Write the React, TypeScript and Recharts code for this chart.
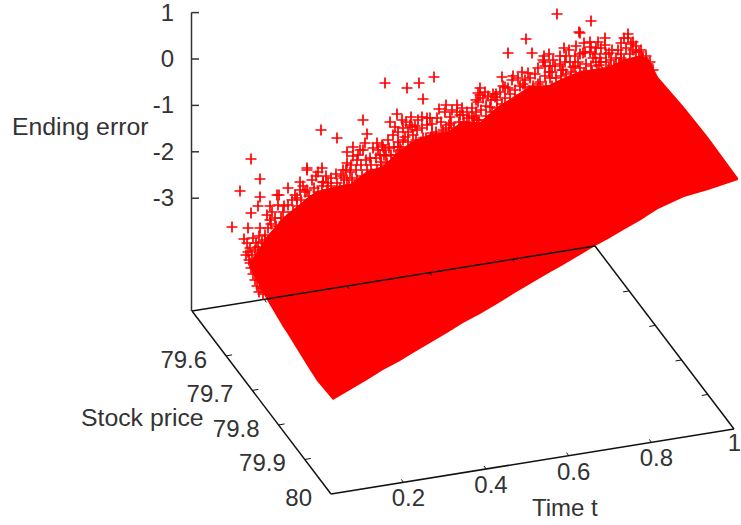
import { ComposedChart, Area, Scatter, XAxis, YAxis, ReferenceLine } from 'recharts'

// tick values of the three axes
const timeTicks = [0.2, 0.4, 0.6, 0.8, 1]
const priceTicks = [79.6, 79.7, 79.8, 79.9, 80]
const errorTicks = [1, 0, -1, -2, -3]

// dense part of the cloud: x, upper edge, lower edge
const bodyX = [250, 262, 267, 283, 287, 300, 308, 317, 333, 350, 367, 383, 400, 413, 430, 447, 463, 480, 497, 513, 530, 547, 563, 580, 595, 608, 625, 641, 650, 658, 684, 708, 738]
const bodyTop = [262, 245, 236, 218, 214, 204, 197, 191, 187, 184, 171, 166, 150, 141, 134, 132, 121, 122, 107, 97, 86, 86, 78, 71, 69, 67, 59, 55, 61, 77, 107, 137, 178]
const bodyBottom = [268, 291, 300, 327, 333, 354, 367, 381, 400, 390, 380, 370, 361, 353, 343, 333, 323, 314, 304, 294, 284, 274, 265, 255, 246, 239, 229, 220, 214, 209, 197, 190, 180]

// single "+" marks
const looseX = [251, 260, 240, 232, 321, 337, 363, 367, 390, 397, 395, 260, 288, 307, 307, 322, 323, 277, 279, 258, 270, 251, 300, 312, 323, 297, 292, 307, 283, 270, 280, 248, 260, 244, 253, 248, 258, 250, 265, 277, 353, 363, 377, 382, 380, 370, 392, 398, 347, 343, 357, 350, 367, 387, 328, 337, 347, 385, 407, 419, 434, 423, 411, 422, 427, 430, 412, 415, 439, 446, 457, 450, 451, 463, 472, 478, 480, 485, 490, 497, 495, 502, 512, 505, 522, 528, 515, 525, 540, 538, 543, 553, 552, 562, 508, 526, 532, 557, 579, 569, 570, 432, 423, 405, 400, 383, 387, 413, 443, 455, 467, 477, 483, 507, 591, 580, 605, 605, 628, 621, 633, 639, 584, 591, 596, 583, 609, 618, 578, 593, 544, 563, 573, 549, 584, 609, 621, 643, 599, 653]
const looseY = [159, 179, 191, 227, 130, 138, 120, 134, 122, 114, 127, 197, 188, 168, 170, 168, 182, 195, 195, 206, 206, 213, 182, 180, 182, 198, 200, 190, 212, 220, 227, 228, 228, 239, 238, 252, 247, 263, 240, 232, 147, 150, 143, 145, 155, 158, 162, 147, 163, 170, 160, 172, 170, 167, 183, 183, 180, 83, 88, 83, 77, 99, 117, 117, 118, 118, 127, 126, 109, 105, 105, 117, 123, 115, 108, 93, 95, 92, 107, 100, 97, 77, 80, 87, 72, 73, 100, 87, 82, 68, 60, 60, 72, 70, 53, 39, 53, 14, 32, 50, 62, 133, 138, 137, 147, 147, 163, 150, 130, 133, 123, 120, 127, 107, 21, 33, 38, 45, 38, 43, 50, 52, 43, 47, 48, 53, 53, 50, 62, 58, 62, 70, 67, 72, 73, 68, 58, 58, 65, 70]

// crowded fringe above the dense part, left to right
const fringeLeft = [[247, 243], [250, 248], [246, 255], [252, 255], [249, 260], [254, 262], [251, 268], [256, 268], [253, 274], [258, 274], [255, 280], [260, 280], [257, 286], [261, 288], [259, 292], [263, 294], [256, 243], [259, 236], [262, 242], [255, 250], [259, 252], [263, 252], [260, 258], [264, 262], [265, 235], [268, 228], [266, 244], [271, 238], [267, 215], [272, 212], [275, 218], [271, 224], [276, 226], [281, 218], [284, 222], [279, 232], [285, 232], [288, 226], [291, 218], [294, 224], [289, 236], [275, 236], [281, 240], [293, 212], [297, 206], [300, 212], [284, 206], [288, 205], [278, 205], [295, 195], [301, 200], [297, 218], [303, 218]]
const fringeMiddle = [[305, 192], [309, 196], [314, 188], [318, 192], [322, 186], [327, 190], [331, 186], [311, 204], [316, 204], [321, 198], [326, 198], [331, 196], [336, 192], [340, 188], [344, 186], [306, 206], [300, 190], [303, 186], [316, 176], [326, 176], [331, 178], [336, 174], [341, 176], [318, 172], [346, 170], [351, 165], [356, 170], [361, 165], [366, 160], [371, 165], [376, 158], [381, 162], [386, 156], [352, 178], [357, 180], [362, 176], [367, 180], [372, 174], [377, 170], [382, 172], [387, 168], [392, 170], [397, 165], [344, 178], [349, 185], [355, 186], [360, 150], [365, 143], [373, 148], [378, 150], [385, 150], [358, 155], [353, 156], [347, 152], [391, 155], [396, 155], [401, 150], [406, 152], [411, 147], [388, 140], [393, 135], [398, 132], [403, 128], [408, 132], [413, 135], [403, 140], [398, 142], [408, 142], [394, 147], [402, 120], [406, 122], [410, 125], [389, 148], [384, 155], [381, 165], [401, 158], [406, 160]]
const fringeUpper = [[416, 140], [421, 142], [426, 138], [431, 138], [436, 132], [417, 130], [422, 128], [427, 125], [432, 124], [437, 118], [418, 120], [441, 122], [442, 135], [446, 128], [415, 147], [420, 150], [427, 146], [433, 146], [439, 142], [444, 142], [449, 125], [454, 128], [459, 122], [464, 122], [469, 118], [452, 110], [457, 112], [462, 108], [467, 112], [449, 132], [456, 135], [462, 132], [468, 128], [473, 125], [472, 116], [445, 112], [460, 115], [476, 112], [481, 110], [486, 106], [491, 100], [496, 94], [478, 102], [483, 98], [488, 96], [474, 118], [479, 120], [486, 116], [492, 112], [497, 108], [502, 104], [480, 88], [476, 100], [493, 94], [500, 92], [489, 120]]
const fringeTop = [[505, 98], [510, 94], [515, 90], [520, 86], [525, 80], [530, 78], [535, 74], [503, 86], [508, 88], [513, 76], [518, 78], [523, 84], [528, 92], [533, 86], [538, 84], [511, 104], [517, 100], [522, 98], [527, 100], [532, 98], [537, 96], [542, 92], [545, 66], [550, 66], [555, 66], [560, 64], [565, 62], [545, 76], [550, 78], [556, 78], [561, 76], [566, 74], [571, 72], [546, 86], [552, 86], [558, 88], [564, 84], [569, 82], [544, 56], [549, 54], [560, 56], [564, 48], [566, 56], [575, 56], [580, 54], [585, 52], [590, 52], [595, 54], [600, 58], [575, 66], [580, 68], [586, 64], [591, 66], [596, 62], [601, 62], [576, 76], [581, 76], [586, 74], [592, 72], [597, 70], [602, 72], [576, 46], [590, 42], [598, 42], [606, 62], [611, 60], [616, 58], [621, 54], [626, 48], [631, 44], [636, 46], [641, 50], [646, 56], [650, 62], [606, 54], [612, 50], [608, 70], [614, 66], [619, 64], [624, 60], [630, 54], [636, 52], [642, 58], [648, 64], [624, 38], [628, 34], [633, 42], [601, 48]]

// view of the base rectangle and of the vertical axis
const back = { x: 192, y: 311 }
const alongTime = { x: 403, y: -65 }
const alongPrice = { x: 139, y: 183 }
const timeMin = 0.025
const priceMin = 79.47

const ground = (t: number, s: number) => {
  const u = (t - timeMin) / (1 - timeMin)
  const v = (s - priceMin) / (80 - priceMin)
  return { x: back.x + u * alongTime.x + v * alongPrice.x, y: back.y + u * alongTime.y + v * alongPrice.y }
}
const errorY = (z: number) => 59 - 46.4 * z

const FONT = '"Liberation Sans", Arial, sans-serif'
const INK = '#333333'
const LINE = '#111111'

const bodyRows = bodyX.map((x, i) => ({ x, band: [bodyTop[i], bodyBottom[i]] }))
const loosePoints = [
  ...looseX.map((x, i) => ({ x, y: looseY[i] })),
  ...[...fringeLeft, ...fringeMiddle, ...fringeUpper, ...fringeTop].map(([x, y]) => ({ x, y })),
]

const labels = [
  ...errorTicks.map(z => ({ x: 174, y: errorY(z) + 8, text: String(z), anchor: 'end', size: 24 })),
  ...priceTicks.map(s => ({ x: ground(timeMin, s).x - 19, y: ground(timeMin, s).y + 12, text: String(s), anchor: 'end', size: 24 })),
  ...timeTicks.slice(0, 4).map(t => ({ x: ground(t, 80).x + 5, y: ground(t, 80).y + 24, text: String(t), anchor: 'middle', size: 24 })),
  { x: 741, y: 451, text: '1', anchor: 'end', size: 24 },
  { x: 12, y: 135, text: 'Ending error', anchor: 'start', size: 24.8 },
  { x: 81, y: 426, text: 'Stock price', anchor: 'start', size: 24.8 },
  { x: 532, y: 516, text: 'Time t', anchor: 'start', size: 24 },
]

const Plus = (props: any) => {
  const { cx, cy } = props
  return (
    <path d={`M${cx - 5.5} ${cy}H${cx + 5.5}M${cx} ${cy - 5.5}V${cy + 5.5}`} stroke="#ff0000" strokeWidth={1.7} fill="none" />
  )
}

const Label = (props: any) => {
  const { cx, cy, payload } = props
  return (
    <text x={cx} y={cy} textAnchor={payload.anchor} fontFamily={FONT} fontSize={payload.size} fill={INK}>
      {payload.text}
    </text>
  )
}

const seg = (a: { x: number; y: number }, b: { x: number; y: number }) => [a, b] as any

export default function App() {
  const corners = [ground(timeMin, priceMin), ground(1, priceMin), ground(1, 80), ground(timeMin, 80)]
  return (
    <div style={{ position: 'absolute', left: 0, top: 0 }}>
      <ComposedChart width={741} height={525} data={bodyRows} margin={{ top: 0, right: 0, bottom: 0, left: 0 }}>
        <XAxis type="number" dataKey="x" domain={[0, 741]} hide />
        <YAxis type="number" dataKey="y" domain={[0, 525]} reversed hide />
        <Area dataKey="band" type="linear" stroke="none" fill="#ff0000" fillOpacity={1} isAnimationActive={false} />
        <Scatter data={loosePoints} shape={Plus} isAnimationActive={false} />
        <Scatter data={labels} shape={Label} isAnimationActive={false} />

        <ReferenceLine segment={seg({ x: 191.5, y: errorY(1) }, { x: 191.5, y: 311 })} stroke={INK} strokeWidth={1.5} />
        {errorTicks.map(z => (
          <ReferenceLine key={`e${z}`} segment={seg({ x: 191.5, y: errorY(z) }, { x: 199, y: errorY(z) })} stroke={INK} strokeWidth={1.5} />
        ))}
        {corners.map((c, i) => (
          <ReferenceLine key={`c${i}`} segment={seg(c, corners[(i + 1) % 4])} stroke={LINE} strokeWidth={1.5} />
        ))}
        {timeTicks.slice(0, 4).map(t => {
          const a = ground(t, priceMin)
          const b = ground(t, 80)
          return [
            <ReferenceLine key={`tb${t}`} segment={seg(a, { x: a.x + 2, y: a.y + 3 })} stroke={LINE} />,
            <ReferenceLine key={`tf${t}`} segment={seg(b, { x: b.x - 2, y: b.y - 3 })} stroke={LINE} />,
          ]
        })}
        {priceTicks.slice(0, 4).map(s => {
          const a = ground(timeMin, s)
          const b = ground(1, s)
          return [
            <ReferenceLine key={`pl${s}`} segment={seg(a, { x: a.x + 6, y: a.y - 1 })} stroke={LINE} />,
            <ReferenceLine key={`pr${s}`} segment={seg(b, { x: b.x - 6, y: b.y + 1 })} stroke={LINE} />,
          ]
        })}
      </ComposedChart>
    </div>
  )
}
